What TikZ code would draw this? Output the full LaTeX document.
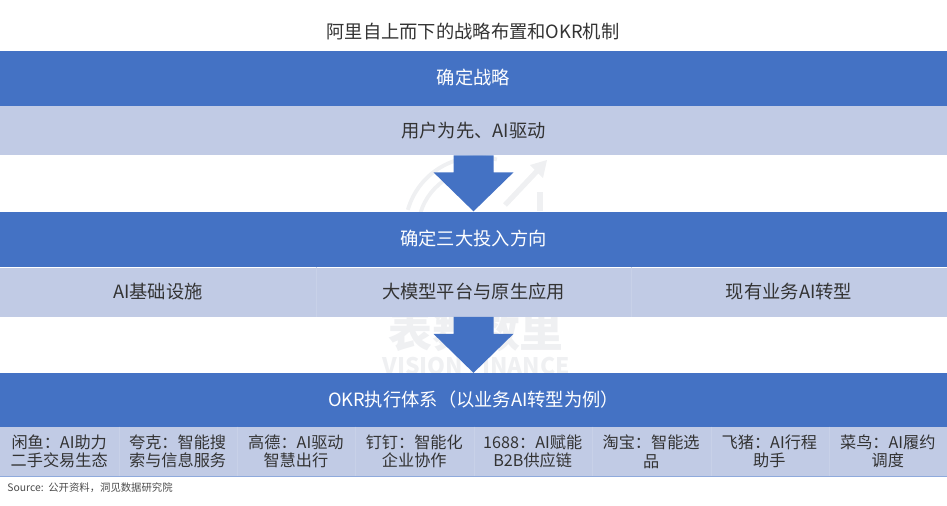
\documentclass[tikz,border=0pt]{standalone}
\usepackage{fontspec}
\setmainfont{Noto Sans CJK SC}
\usetikzlibrary{calc}
\definecolor{bandblue}{RGB}{68,114,196}
\definecolor{bandlight}{RGB}{193,203,229}
\definecolor{markgray}{RGB}{239,240,242}
\tikzset{
	x=0.02cm, y=-0.02cm,
	head/.style={fill=bandblue, text=white, minimum width=18.94cm, minimum height=1.1cm, inner sep=0, font=\fontsize{10.4}{12}\selectfont},
	body/.style={fill=bandlight, text=black!80, minimum height=0.98cm, inner sep=0, font=\fontsize{10.4}{12}\selectfont},
	cell/.style={body, minimum width=2.38cm, text width=2.3cm, align=center, font=\fontsize{9.2}{10.6}\selectfont},
}
\def\blockarrow(#1){\fill[bandblue] ($(#1)+(-20,0)$) -- ($(#1)+(20,0)$) -- ($(#1)+(20,17)$) -- ($(#1)+(40,17)$) -- ($(#1)+(0,56)$) -- ($(#1)+(-40,17)$) -- ($(#1)+(-20,17)$) -- cycle;}

\begin{document}
\begin{tikzpicture}
		%%%%% START %%%%%
		\useasboundingbox (0, 0) rectangle (947, 505);
		
		% watermark
		\coordinate (markC) at (478, 230);
		\draw[markgray, line width=2.2pt] (markC) ++(196:73) arc (196:285:73);
		\draw[markgray, line width=2.2pt] (markC) ++(196:60) arc (196:285:60);
		\draw[markgray, line width=3pt] (505, 205) -- (538, 170);
		\fill[markgray] (547, 160) -- (530, 165) -- (543, 178) -- cycle;
		\draw[markgray, line width=3pt] (540, 192) -- (540, 211);
		\node[text=markgray, inner sep=0, font=\fontsize{25}{25}\bfseries\selectfont] (markCn) at (476, 331) {表舞数里};
		\node[text=markgray, inner sep=0, font=\fontsize{13}{13}\bfseries\selectfont] (markEn) at (476, 366) {VISION FINANCE};
		
		\node[text=black!80, font=\fontsize{10.4}{12}\selectfont] (title) at (473, 32) {阿里自上而下的战略布置和OKR机制};
		
		\node[head] (strategy) at (473.5, 78) {确定战略};
		\node[body, minimum width=18.94cm] (strategyBody) at (473.5, 130.5) {用户为先、AI驱动};
		
		\node[head] (invest) at (473.5, 239) {确定三大投入方向};
		\node[body, minimum width=6.3133cm] (investA) at (158, 292) {AI基础设施};
		\node[body, minimum width=6.3133cm] (investB) at (473.5, 292) {大模型平台与原生应用};
		\node[body, minimum width=6.3133cm] (investC) at (789, 292) {现有业务AI转型};
		
		\node[head] (okr) at (473.5, 400) {OKR执行体系（以业务AI转型为例）};
		
		\node[cell] (xianyu) at (59.2, 451.5) {闲鱼：AI助力\\二手交易生态};
		\node[cell] (kuake) at (177.6, 451.5) {夸克：智能搜\\索与信息服务};
		\node[cell] (gaode) at (295.9, 451.5) {高德：AI驱动\\智慧出行};
		\node[cell] (dingding) at (414.3, 451.5) {钉钉：智能化\\企业协作};
		\node[cell] (supply) at (532.7, 451.5) {1688：AI赋能\\B2B供应链};
		\node[cell] (taobao) at (651.1, 451.5) {淘宝：智能选\\品};
		\node[cell] (feizhu) at (769.4, 451.5) {飞猪：AI行程\\助手};
		\node[cell] (cainiao) at (887.8, 451.5) {菜鸟：AI履约\\调度};
		
		\draw[bandblue!60, line width=0.4pt] (xianyu.south west) -- (cainiao.south east);
		\foreach \a in {investA, investB, xianyu, kuake, gaode, dingding, supply, taobao, feizhu}
			\draw[white!12!bandlight, line width=0.3pt] (\a.north east) -- (\a.south east);
		
		\blockarrow(strategyBody.south);
		\blockarrow(investB.south);
		
		\node[anchor=west, inner sep=0, text=black!70, font=\fontsize{5.9}{7}\selectfont] (source) at (7, 488) {Source:\ \ 公开资料，洞见数据研究院};
		
		%%%%% END %%%%%
	\end{tikzpicture}
\end{document}
